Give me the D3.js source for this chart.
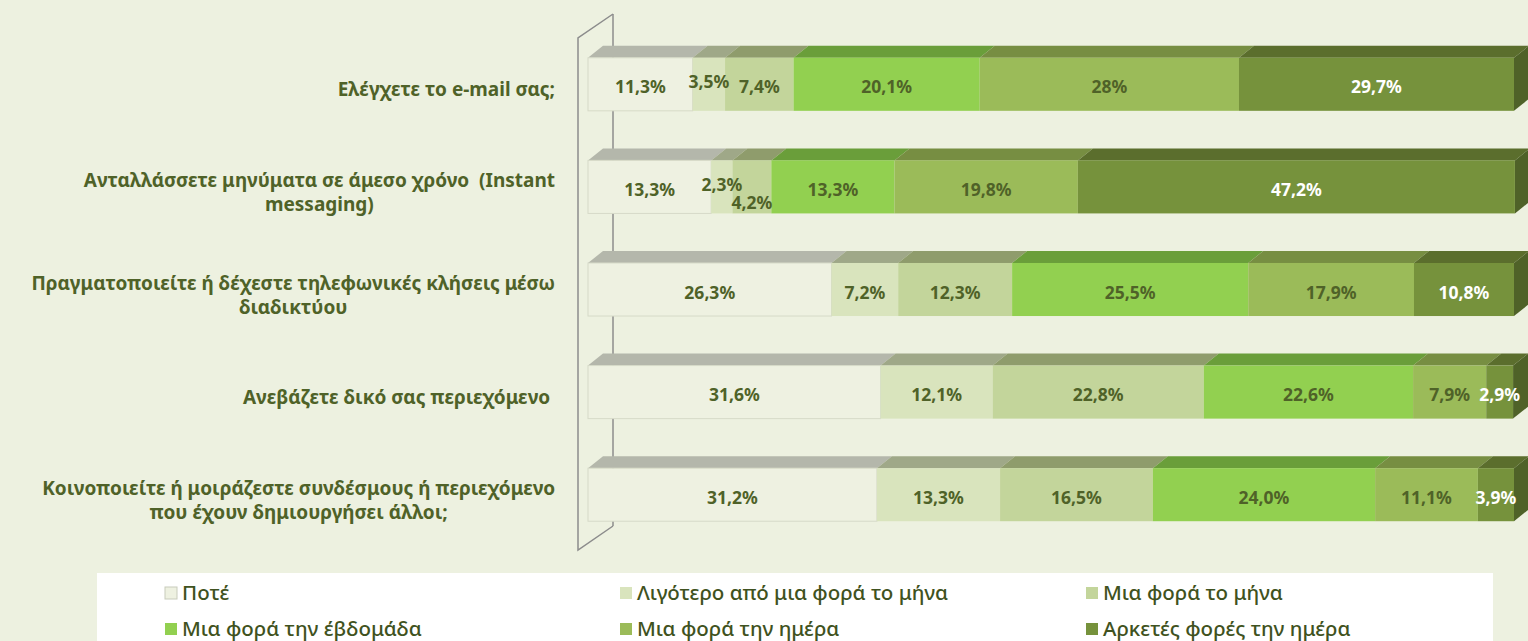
<!DOCTYPE html>
<html>
<head>
<meta charset="utf-8">
<script src="https://cdn.jsdelivr.net/npm/d3@7"></script>
<style>
  body { margin: 0; background: #edf1e0; }
  svg { display: block; }
</style>
</head>
<body>
<svg id="chart"></svg>
<script>
// questions (two-line labels split on "|")
var categories = [
  "Ελέγχετε το e-mail σας;",
  "Ανταλλάσσετε μηνύματα σε άμεσο χρόνο  (Instant|messaging)",
  "Πραγματοποιείτε ή δέχεστε τηλεφωνικές κλήσεις μέσω|διαδικτύου",
  "Ανεβάζετε δικό σας περιεχόμενο ",
  "Κοινοποιείτε ή μοιράζεστε συνδέσμους ή περιεχόμενο|που έχουν δημιουργήσει άλλοι;"
];
var series = [
  "Ποτέ",
  "Λιγότερο από μια φορά το μήνα",
  "Μια φορά το μήνα",
  "Μια φορά την έβδομάδα",
  "Μια φορά την ημέρα",
  "Αρκετές φορές την ημέρα"
];
// percentages as printed on the bars
var emailVals   = ["11,3", "3,5", "7,4", "20,1", "28", "29,7"];
var instantVals = ["13,3", "2,3", "4,2", "13,3", "19,8", "47,2"];
var callVals    = ["26,3", "7,2", "12,3", "25,5", "17,9", "10,8"];
var uploadVals  = ["31,6", "12,1", "22,8", "22,6", "7,9", "2,9"];
var shareVals   = ["31,2", "13,3", "16,5", "24,0", "11,1", "3,9"];
var rows = [emailVals, instantVals, callVals, uploadVals, shareVals];

var frontColor = ["#eef1e1", "#d9e4bd", "#c3d59b", "#92d050", "#9bbb59", "#76923c"];
var topColor   = ["#b4b7ab", "#9fa888", "#8f9c6c", "#6a9e3a", "#778e42", "#5b6e2d"];
var labelColor = ["#4f6228", "#4f6228", "#4f6228", "#4f6228", "#4f6228", "#ffffff"];

var width = 1528, height = 641;
var dx = 15, dy = -12; // bar depth

var svg = d3.select("#chart").attr("width", width).attr("height", height);

var x = d3.scaleLinear().domain([0, 100]).range([588, 1514]);
var y = d3.scaleBand().domain(d3.range(categories.length))
  .range([33, 546]).paddingInner(0.483).paddingOuter(0.2415);

function num(s) { return +s.replace(",", "."); }

// stacked data
var stacked = rows.map(function(r, i) {
  var acc = 0;
  return r.map(function(s, j) {
    var v = num(s);
    var seg = { row: i, k: j, x0: acc, x1: acc + v, text: s + "%" };
    acc += v;
    return seg;
  });
});

// back wall
var x0 = x(0);
svg.append("line")
  .attr("x1", x0 + 25).attr("y1", 14).attr("x2", x0 + 25).attr("y2", 526)
  .attr("stroke", "#8c8c8c").attr("stroke-width", 1.5);
svg.append("path")
  .attr("d", "M" + (x0 + 25) + ",14 L" + (x0 - 10) + ",38 L" + (x0 - 10) + ",550 L" + (x0 + 25) + ",526")
  .attr("fill", "none").attr("stroke", "#8c8c8c").attr("stroke-width", 1.5);

var bars = svg.append("g");
stacked.forEach(function(segs, i) {
  var g = bars.append("g");
  var yt = y(i), bh = y.bandwidth();
  // top faces
  g.selectAll(".top").data(segs).join("path")
    .attr("d", function(d) {
      return "M" + x(d.x0) + "," + yt + " L" + x(d.x1) + "," + yt +
        " L" + (x(d.x1) + dx) + "," + (yt + dy) + " L" + (x(d.x0) + dx) + "," + (yt + dy) + "Z";
    })
    .attr("fill", function(d) { return topColor[d.k]; });
  // right side of the last segment
  var last = segs[segs.length - 1];
  g.append("path")
    .attr("d", "M" + x(last.x1) + "," + yt + " L" + (x(last.x1) + dx) + "," + (yt + dy) +
      " L" + (x(last.x1) + dx) + "," + (yt + bh + dy) + " L" + x(last.x1) + "," + (yt + bh) + "Z")
    .attr("fill", "#4f6228");
  // front faces
  g.selectAll(".front").data(segs).join("rect")
    .attr("x", function(d) { return x(d.x0); })
    .attr("y", yt)
    .attr("width", function(d) { return x(d.x1) - x(d.x0); })
    .attr("height", bh)
    .attr("fill", function(d) { return frontColor[d.k]; })
    .attr("stroke", function(d) { return d.k == 0 ? "#d6dac8" : "none"; });
});

// small labels nudged like in the original
var nudge = { "0-1": -5, "1-1": -5, "1-2": 13 };

var labels = svg.append("g")
  .attr("font-family", "Noto Sans, sans-serif")
  .attr("font-weight", "bold")
  .attr("font-size", "17.5px")
  .attr("text-anchor", "middle");
stacked.forEach(function(segs, i) {
  labels.selectAll(null).data(segs).join("text")
    .attr("x", function(d) { return (x(d.x0) + x(d.x1)) / 2; })
    .attr("y", function(d) { return y(i) + y.bandwidth() / 2 + 9 + (nudge[d.row + "-" + d.k] || 0); })
    .attr("fill", function(d) { return labelColor[d.k]; })
    .text(function(d) { return d.text; });
});

// category labels
var lineH = 24;
var cat = svg.append("g")
  .attr("font-family", "Noto Sans, sans-serif")
  .attr("font-weight", "bold")
  .attr("font-size", "19px")
  .attr("fill", "#4f6228");
categories.forEach(function(c, i) {
  var lines = c.split("|");
  var cy = y(i) + y.bandwidth() / 2;
  var t = cat.append("text")
    .attr("text-anchor", lines.length > 1 ? "middle" : "end")
    .attr("y", cy - (lines.length - 1) * lineH / 2 + 12)
    .attr("xml:space", "preserve");
  if (lines.length == 1) {
    t.attr("x", x0 - 33).text(c);
  } else {
    // centre the block under the widest line, right-aligned at the axis
    lines.forEach(function(l, k) {
      t.append("tspan").attr("dy", k ? lineH : 0).text(l);
    });
    var maxW = 0;
    t.selectAll("tspan").each(function() { maxW = Math.max(maxW, this.getComputedTextLength()); });
    t.selectAll("tspan").attr("x", x0 - 33 - maxW / 2);
  }
});

// legend
var legend = svg.append("g");
legend.append("rect")
  .attr("x", 97).attr("y", 573).attr("width", 1396).attr("height", 80)
  .attr("fill", "#ffffff");
var colX = [165, 620, 1086], rowY = [593, 629];
series.forEach(function(s, i) {
  var lx = colX[i % 3], ly = rowY[Math.floor(i / 3)];
  legend.append("rect")
    .attr("x", lx).attr("y", ly - 6).attr("width", 12).attr("height", 12)
    .attr("fill", frontColor[i])
    .attr("stroke", i == 0 ? "#c8cbbb" : "none");
  legend.append("text")
    .attr("x", lx + 17).attr("y", ly + 7)
    .attr("font-family", "Noto Sans, sans-serif")
    .attr("font-size", "20.5px")
    .attr("font-weight", 500)
    .attr("fill", "#3f5220")
    .text(s);
});
</script>
</body>
</html>
